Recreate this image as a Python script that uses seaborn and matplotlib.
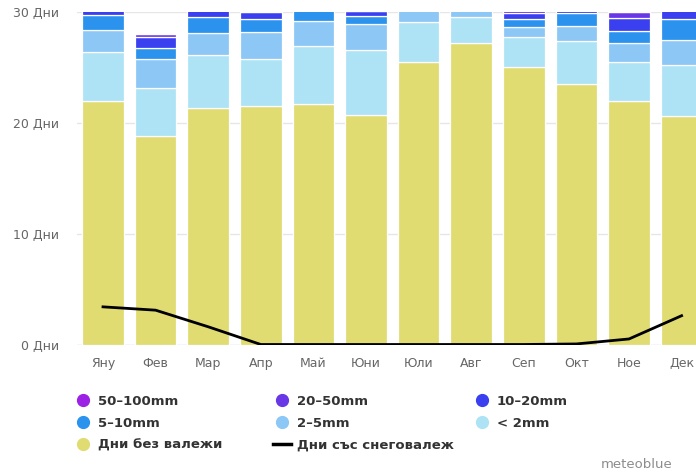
import matplotlib
matplotlib.use("Agg")
import matplotlib.pyplot as plt
from matplotlib.lines import Line2D
import numpy as np
import pandas as pd
import seaborn as sns

# Monthly precipitation-day climatology (days per month)
months = ["Яну", "Фев", "Мар", "Апр", "Май", "Юни", "Юли", "Авг", "Сеп", "Окт", "Ное", "Дек"]
dry_days = [22.0, 18.8, 21.4, 21.5, 21.7, 20.7, 25.5, 27.2, 25.1, 23.5, 22.0, 20.6]
precip_lt2 = [4.4, 4.4, 4.7, 4.3, 5.3, 5.9, 3.6, 2.4, 2.7, 3.9, 3.5, 4.6]
precip_2_5 = [2.0, 2.6, 2.0, 2.4, 2.2, 2.3, 1.4, 1.0, 0.9, 1.4, 1.7, 2.3]
precip_5_10 = [1.4, 1.0, 1.5, 1.2, 1.3, 0.8, 0.4, 0.4, 0.7, 1.1, 1.1, 1.9]
precip_10_20 = [0.8, 1.0, 1.1, 0.6, 0.3, 0.4, 0.1, 0.0, 0.5, 0.8, 1.2, 1.2]
precip_20_50 = [0.3, 0.2, 0.3, 0.2, 0.1, 0.1, 0.0, 0.0, 0.3, 0.3, 0.5, 0.4]
precip_50_100 = [0.1, 0.0, 0.0, 0.1, 0.0, 0.0, 0.0, 0.0, 0.1, 0.0, 0.1, 0.0]
snow_days = [3.4, 3.1, 1.6, 0.0, 0.0, 0.0, 0.0, 0.0, 0.0, 0.05, 0.5, 2.6]

category_labels = ["50–100mm", "20–50mm", "10–20mm", "5–10mm", "2–5mm", "< 2mm", "Дни без валежи"]
snow_label = "Дни със снеговалеж"
y_ticks = [0, 10, 20, 30]
unit = "Дни"

colors = {
    "50–100mm": "#9b22e4",
    "20–50mm": "#6a37e6",
    "10–20mm": "#3a3ff0",
    "5–10mm": "#2b93ee",
    "2–5mm": "#8cc7f5",
    "< 2mm": "#ade3f5",
    "Дни без валежи": "#e0dc72",
}

series = [precip_50_100, precip_20_50, precip_10_20, precip_5_10,
          precip_2_5, precip_lt2, dry_days]
rows = []
for label, vals in zip(category_labels, series):
    for i, v in enumerate(vals):
        rows.append({"month": i, "category": label, "days": v})
df = pd.DataFrame(rows)

W, H = 696, 472
fig = plt.figure(figsize=(W / 100, H / 100), dpi=100)
ax = fig.add_axes([76.7 / W, 1 - 344.5 / H, 12 * 52.6 / W, 332.2 / H])

sns.histplot(
    data=df, x="month", weights="days", hue="category",
    hue_order=category_labels, multiple="stack", discrete=True,
    shrink=0.79, palette=colors, edgecolor="white", linewidth=0.9,
    alpha=1, legend=False, ax=ax, zorder=2,
)

sns.lineplot(x=np.arange(len(months)), y=snow_days, color="black",
             linewidth=2.0, ax=ax, zorder=5)

ax.set_xlim(-0.5, 11.5)
ax.set_ylim(0, 30)
ax.set_yticks(y_ticks)
ax.set_yticklabels([f"{t} {unit}" for t in y_ticks])
ax.set_xticks(np.arange(len(months)))
ax.set_xticklabels(months)
ax.set_xlabel("")
ax.set_ylabel("")
for s in ax.spines.values():
    s.set_visible(False)
ax.tick_params(axis="both", length=0, labelsize=9, labelcolor="#666666")
ax.tick_params(axis="y", pad=12.5)
ax.tick_params(axis="x", pad=9)
ax.set_axisbelow(True)
for t in y_ticks[1:]:
    ax.axhline(t, color="#e6e6e6", linewidth=1, zorder=0)
ax.axhline(0, color="#ccd6eb", linewidth=1, zorder=1)
ax.grid(False)

# Legend in three columns
def circle(c):
    return Line2D([], [], marker="o", linestyle="", markersize=8.5,
                  markerfacecolor=c, markeredgecolor=c)

columns = [
    [(circle(colors["50–100mm"]), "50–100mm"),
     (circle(colors["5–10mm"]), "5–10mm"),
     (circle(colors["Дни без валежи"]), "Дни без валежи")],
    [(circle(colors["20–50mm"]), "20–50mm"),
     (circle(colors["2–5mm"]), "2–5mm"),
     (Line2D([], [], color="black", linewidth=2.5), snow_label)],
    [(circle(colors["10–20mm"]), "10–20mm"),
     (circle(colors["< 2mm"]), "< 2mm")],
]
col_x = [74, 273, 473]
for x0, items in zip(col_x, columns):
    leg = fig.legend(
        [h for h, _ in items], [l for _, l in items],
        loc="upper left", bbox_to_anchor=(x0 / W, 1 - 395 / H),
        frameon=False, borderpad=0, borderaxespad=0,
        handlelength=1.4, handletextpad=0.42, labelspacing=0.66,
        prop={"size": 9.5, "weight": "bold"},
    )
    for txt in leg.get_texts():
        txt.set_color("#333333")

fig.text(672 / W, 1 - 464 / H, "meteoblue", ha="right", va="center",
         fontsize=9.5, color="#8c8c8c")

fig.savefig("out.png", dpi=100)
